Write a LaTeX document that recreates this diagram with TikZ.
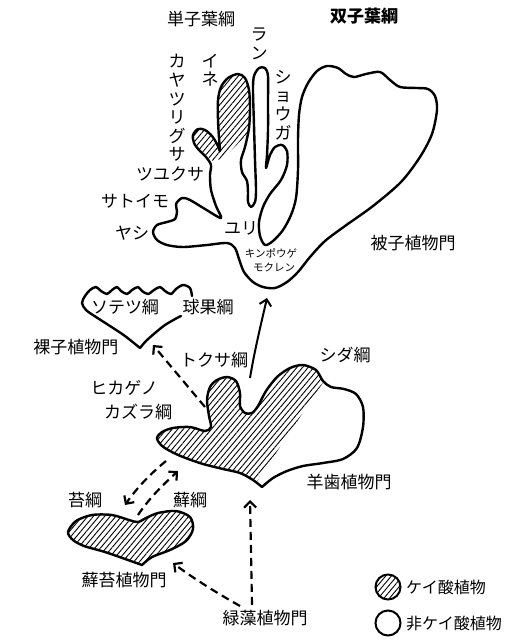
\documentclass[tikz,border=0pt]{standalone}
\usepackage{fontspec}
\setmainfont{Noto Sans CJK JP}
\usetikzlibrary{arrows.meta,patterns.meta}
\tikzset{
  shapeline/.style={line width=2.4pt, line cap=round, line join=round},
  hatchfill/.style={pattern={Lines[angle=50,distance=4.3pt,line width=0.9pt]}},
  lab/.style={font=\fontsize{17}{20}\selectfont, inner sep=0pt},
  vlab/.style={font=\fontsize{17}{18.6}\selectfont, inner sep=0pt, align=center},
  smalllab/.style={font=\fontsize{10.5}{12}\selectfont, inner sep=0pt},
  leglab/.style={font=\fontsize{16}{18}\selectfont, inner sep=0pt, anchor=west},
  darr/.style={line width=2.2pt, dash pattern=on 8pt off 5pt, -{Straight Barb[length=6pt,width=12pt]}},
  sarr/.style={line width=2pt, -{Straight Barb[length=6pt,width=12pt]}},
}
\begin{document}
\begin{tikzpicture}[x=1pt,y=-1pt]
\useasboundingbox (0,0) rectangle (528,641);
\fill[white] (0,0) rectangle (528,641);

% ---------- Angiosperms ----------
\begin{scope}
\clip plot[smooth cycle, tension=0.5] coordinates {(221,218)(216,206)(211,190)(210,175)(211,165)(206,157)(199,150)(194,143)(193,135)(198,129)(205,130)(212,136)(217,144)(220,151)(219,138)(218,120)(218,100)(221,87)(228,78)(238,74)(245,78)(249,90)(250,108)(249,128)(245,147)(241,160)(242,172)(247,181)(248,193)(248,202)(251,207)(255,202)(256,190)(255,160)(254,125)(253,90)(254,76)(259,68)(265,68)(268,76)(268,100)(268,130)(267,155)(266,168)(270,155)(275,147)(282,145)(287,151)(287,165)(281,180)(270,194)(263,207)(259,222)(260,236)(265,245)(273,241)(283,230)(291,215)(296,198)(298,170)(298,140)(299,115)(302,97)(308,83)(317,71)(327,66)(338,68)(346,74)(354,77)(366,74)(380,72)(390,80)(400,87)(417,88)(428,89)(435,96)(437,110)(432,134)(420,157)(401,182)(373,206)(345,226)(325,241)(310,257)(298,272)(287,282)(275,288)(263,287)(253,282)(244,272)(239,259)(235,248)(227,243)(207,245)(183,247)(167,245)(157,240)(153,232)(157,225)(167,222)(175,219)(177,211)(176,204)(182,198)(190,200)(205,209)};
\fill[hatchfill] (185,60) -- (251,60) -- (251,130) -- (224,158) -- (213,161) -- (203,153) -- (185,150) -- cycle;
\end{scope}
\draw[shapeline] plot[smooth cycle, tension=0.5] coordinates {(221,218)(216,206)(211,190)(210,175)(211,165)(206,157)(199,150)(194,143)(193,135)(198,129)(205,130)(212,136)(217,144)(220,151)(219,138)(218,120)(218,100)(221,87)(228,78)(238,74)(245,78)(249,90)(250,108)(249,128)(245,147)(241,160)(242,172)(247,181)(248,193)(248,202)(251,207)(255,202)(256,190)(255,160)(254,125)(253,90)(254,76)(259,68)(265,68)(268,76)(268,100)(268,130)(267,155)(266,168)(270,155)(275,147)(282,145)(287,151)(287,165)(281,180)(270,194)(263,207)(259,222)(260,236)(265,245)(273,241)(283,230)(291,215)(296,198)(298,170)(298,140)(299,115)(302,97)(308,83)(317,71)(327,66)(338,68)(346,74)(354,77)(366,74)(380,72)(390,80)(400,87)(417,88)(428,89)(435,96)(437,110)(432,134)(420,157)(401,182)(373,206)(345,226)(325,241)(310,257)(298,272)(287,282)(275,288)(263,287)(253,282)(244,272)(239,259)(235,248)(227,243)(207,245)(183,247)(167,245)(157,240)(153,232)(157,225)(167,222)(175,219)(177,211)(176,204)(182,198)(190,200)(205,209)};

% ---------- Gymnosperms (open curve) ----------
\draw[shapeline] plot[smooth, tension=0.5] coordinates {(192,296)(190,288)(183,285)(176,289)(171,294)(165,291)(160,287)(154,290)(148,294)(142,291)(138,287)(132,290)(127,294)(121,291)(117,287)(112,290)(107,294)(101,291)(96,287)(90,290)(85,296)(82,303)(86,310)(96,317)(110,326)(125,336)(140,348)}
  plot[smooth, tension=0.5] coordinates {(140,348)(146,341)(155,333)(165,325)(177,318)(181,316)};

% ---------- Pteridophytes ----------
\begin{scope}
\clip plot[smooth, tension=0.5] coordinates {(262,487)(253,480)(240,473)(223,469)(203,464)(183,457)(170,451)(161,445)(157,438)(162,432)(173,428)(190,427)(205,431)(211,427)(209,416)(207,400)(210,387)(217,380)(227,377)(236,381)(240,393)(240,406)(245,413)(252,413)(258,406)(266,391)(277,377)(290,368)(303,365)(316,370)(323,381)(331,387)(344,389)(356,394)(363,407)(363,427)(357,448)(343,459)(323,463)(303,466)(287,471)(273,478)(262,487)} -- cycle;
\fill[hatchfill] (150,355) -- (326,355) -- (326,378) -- (250,492) -- (150,492) -- cycle;
\end{scope}
\draw[shapeline] plot[smooth, tension=0.5] coordinates {(262,487)(253,480)(240,473)(223,469)(203,464)(183,457)(170,451)(161,445)(157,438)(162,432)(173,428)(190,427)(205,431)(211,427)(209,416)(207,400)(210,387)(217,380)(227,377)(236,381)(240,393)(240,406)(245,413)(252,413)(258,406)(266,391)(277,377)(290,368)(303,365)(316,370)(323,381)(331,387)(344,389)(356,394)(363,407)(363,427)(357,448)(343,459)(323,463)(303,466)(287,471)(273,478)(262,487)} -- cycle;

% ---------- Bryophytes ----------
\draw[shapeline, hatchfill] plot[smooth, tension=0.5] coordinates {(142,565)(152,557)(170,550)(186,541)(193,529)(190,517)(176,511)(158,513)(146,518)(138,522)(129,520)(112,515)(92,515)(76,521)(68,532)(73,540)(84,546)(105,552)(128,560)(142,565)} -- cycle;

% ---------- Labels ----------
\node[lab] (tanshi) at (201,19) {単子葉綱};
\node[lab, font=\fontsize{17}{20}\selectfont\bfseries] (soushi) at (364,16) {双子葉綱};
\node[vlab] (ran) at (259,44) {ラ\\ン};
\node[vlab] (ine) at (210,70) {イ\\ネ};
\node[vlab] (kaya) at (177,108) {カ\\ヤ\\ツ\\リ\\グ\\サ};
\node[vlab] (shouga) at (283,105) {シ\\ョ\\ウ\\ガ};
\node[lab] (tsuyu) at (170,174) {ツユクサ};
\node[lab] (satoimo) at (135,201) {サトイモ};
\node[lab] (yashi) at (132,233) {ヤシ};
\node[lab] (yuri) at (241,228) {ユリ};
\node[smalllab] (kinpo) at (271,253) {キンポウゲ};
\node[smalllab] (mokuren) at (274,267) {モクレン};
\node[lab] (hishi) at (413,243) {被子植物門};
\node[lab] (sotetsu) at (125,307) {ソテツ綱};
\node[lab] (kyuka) at (208,307) {球果綱};
\node[lab] (rashi) at (76,347) {裸子植物門};
\node[lab] (tokusa) at (214,360) {トクサ綱};
\node[lab] (shida) at (345,355) {シダ綱};
\node[lab] (hikage) at (124,388) {ヒカゲノ};
\node[lab] (kazura) at (138,412) {カズラ綱};
\node[lab] (youshi) at (349,482) {羊歯植物門};
\node[lab] (taiko) at (85,500) {苔綱};
\node[lab] (senko) at (190,500) {蘚綱};
\node[lab] (sentai) at (124,580) {蘚苔植物門};
\node[lab] (ryokuso) at (265,618) {緑藻植物門};

% ---------- Arrows ----------
\coordinate (fernEq) at (250,378);
\coordinate (angB) at (267,298);
\draw[sarr] (fernEq) .. controls (255,348) and (262,320) .. (angB);
\coordinate (fernL) at (205,407);
\coordinate (gymB) at (153,345);
\draw[darr] (fernL) -- (gymB);
\coordinate (fernA) at (166,461);
\coordinate (mossA) at (125,505);
\draw[darr] (fernA) .. controls (150,474) and (136,489) .. (mossA);
\coordinate (mossB) at (138,515);
\coordinate (fernB) at (178,471);
\draw[darr] (mossB) .. controls (150,497) and (165,483) .. (fernB);
\coordinate (fernBot) at (250,500);
\draw[darr] ([xshift=-13pt,yshift=5pt]ryokuso.north) -- (fernBot);
\coordinate (mossBot) at (173,563);
\draw[darr] ([xshift=-25pt,yshift=4pt]ryokuso.north) .. controls (215,592) and (190,576) .. (mossBot);

% ---------- Legend ----------
\node[circle, draw, line width=2pt, hatchfill, minimum size=25pt, inner sep=0pt] (lc1) at (388,587) {};
\node[leglab] (lt1) at (406,587) {ケイ酸植物};
\node[circle, draw, line width=2pt, minimum size=25pt, inner sep=0pt] (lc2) at (388,623) {};
\node[leglab] (lt2) at (406,623) {非ケイ酸植物};
\end{tikzpicture}
\end{document}
